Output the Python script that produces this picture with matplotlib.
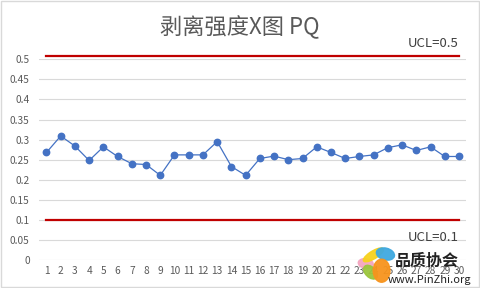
"""
Peel strength X chart (PQ) with control limit lines.
"""

import matplotlib

matplotlib.use("Agg")
import matplotlib.pyplot as plt
from matplotlib.patches import Ellipse, Rectangle

plt.rcParams["font.family"] = ["Noto Sans CJK SC", "DejaVu Sans"]

# Data
samples = list(range(1, 31))
peel_strength = [
    0.268, 0.309, 0.284, 0.248, 0.282, 0.258, 0.240, 0.238, 0.211, 0.262,
    0.262, 0.262, 0.295, 0.233, 0.211, 0.253, 0.259, 0.250, 0.253, 0.282,
    0.268, 0.253, 0.258, 0.262, 0.280, 0.287, 0.273, 0.282, 0.258, 0.258,
]
ucl_upper = 0.509
ucl_lower = 0.1
y_ticks = [0, 0.05, 0.1, 0.15, 0.2, 0.25, 0.3, 0.35, 0.4, 0.45, 0.5]
y_tick_labels = ["0", "0.05", "0.1", "0.15", "0.2", "0.25", "0.3", "0.35", "0.4", "0.45", "0.5"]

text_gray = "#595959"

fig = plt.figure(figsize=(4.8, 2.88), dpi=100)
fig.patches.append(
    Rectangle((0.002, 0.004), 0.995, 0.992, transform=fig.transFigure,
              fill=False, ec="#D9D9D9", lw=1.0)
)

ax = fig.add_axes([0.082, 0.097, 0.889, 0.697])
ax.set_xlim(0.5, 30.5)
ax.set_ylim(0, 0.5)

# Gridlines
ax.set_yticks(y_ticks)
ax.set_yticklabels(y_tick_labels)
ax.yaxis.grid(True, color="#D9D9D9", lw=0.8)
ax.set_axisbelow(True)
for side in ["top", "right", "left", "bottom"]:
    ax.spines[side].set_visible(False)

ax.set_xticks(samples)
ax.set_xticklabels([str(s) for s in samples])
ax.tick_params(axis="both", length=0, labelsize=7.3, labelcolor=text_gray)
ax.tick_params(axis="y", pad=7)
ax.tick_params(axis="x", pad=4)

# Control limits
ax.plot([samples[0], samples[-1]], [ucl_upper, ucl_upper], color="#C00000",
        lw=1.6, clip_on=False, zorder=3)
ax.plot([samples[0], samples[-1]], [ucl_lower, ucl_lower], color="#C00000",
        lw=1.6, zorder=3)

# Series
ax.plot(samples, peel_strength, color="#4472C4", lw=0.9, marker="o",
        markersize=4.6, markerfacecolor="#4472C4", markeredgecolor="#4472C4",
        zorder=4)

ax.text(30, 0.522, "UCL=0.5", ha="right", va="bottom", fontsize=9.5,
        color="#404040")
ax.text(30, 0.040, "UCL=0.1", ha="right", va="bottom", fontsize=9.5,
        color="#404040")

fig.text(0.5, 0.905, "剥离强度X图 PQ", ha="center", va="center", fontsize=16,
         color=text_gray, fontweight="light")

# Watermark logo
for (cx, cy, w, h, ang, col) in [
    (0.762, 0.085, 0.03, 0.035, 30, "#F4A6C0"),
    (0.778, 0.115, 0.022, 0.06, -40, "#F7D21E"),
    (0.803, 0.118, 0.035, 0.045, 30, "#3FA9E0"),
    (0.772, 0.055, 0.025, 0.05, 20, "#9BC53D"),
    (0.795, 0.06, 0.035, 0.08, 0, "#F7941D"),
]:
    fig.patches.append(Ellipse((cx, cy), w, h, angle=ang, transform=fig.transFigure,
                               color=col, alpha=0.95, zorder=5))
fig.text(0.823, 0.068, "品质协会", ha="left", va="bottom", fontsize=11.5,
         fontweight="bold", color="#222222", zorder=6)
fig.text(0.808, 0.012, "www.PinZhi.org", ha="left", va="bottom", fontsize=8,
         color="#222222", zorder=6)

fig.savefig("out.png", dpi=100)
